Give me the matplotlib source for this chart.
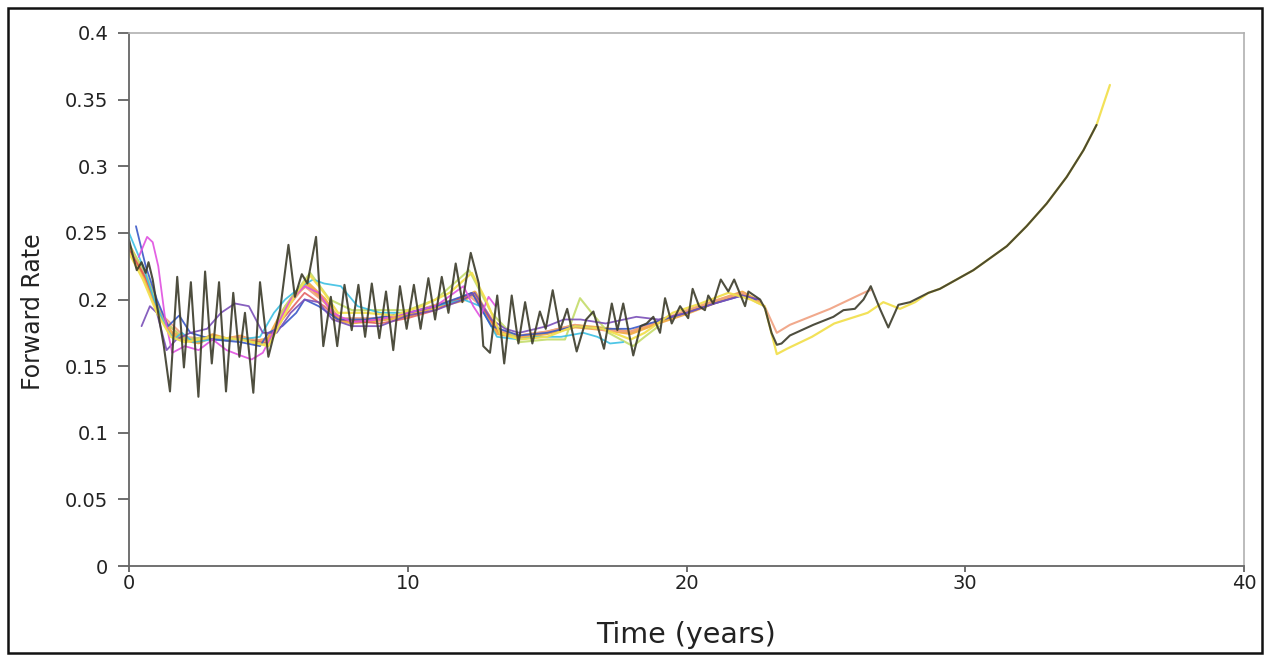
import matplotlib
matplotlib.use("Agg")
import matplotlib.pyplot as plt
from matplotlib.patches import Rectangle

# ---------------- data ----------------
dark_t = [0.0, 0.15, 0.28, 0.45, 0.6, 0.7, 0.85, 1.11, 1.25, 1.47, 1.73, 1.97, 2.22, 2.49, 2.73, 2.97,
          3.23, 3.48, 3.74, 3.96, 4.16, 4.46, 4.70, 5.0, 5.42, 5.72, 5.95, 6.2, 6.4, 6.71, 6.97, 7.24,
          7.47, 7.73, 7.99, 8.23, 8.47, 8.71, 8.98, 9.22, 9.48, 9.72, 9.96, 10.22, 10.46, 10.74, 10.98,
          11.22, 11.46, 11.72, 11.96, 12.26, 12.55, 12.71, 12.95, 13.21, 13.46, 13.73, 13.97, 14.21,
          14.47, 14.74, 14.95, 15.2, 15.46, 15.72, 16.06, 16.4, 16.66, 17.04, 17.32, 17.52, 17.73,
          18.09, 18.35, 18.57, 18.81, 19.05, 19.23, 19.47, 19.77, 20.06, 20.22, 20.45, 20.66, 20.78,
          20.96, 21.23, 21.5, 21.71, 22.1, 22.22, 22.64, 22.82, 23.05, 23.24, 23.41, 23.71, 24.55,
          25.27, 25.63, 26.04, 26.35, 26.61, 26.94, 27.24, 27.6, 28.02, 28.68, 29.09, 30.29, 31.49,
          32.2, 32.92, 33.64, 34.24, 34.71]
dark_v = [0.245, 0.232, 0.222, 0.228, 0.220, 0.228, 0.215, 0.182, 0.165, 0.131, 0.217, 0.149, 0.213,
          0.127, 0.221, 0.152, 0.213, 0.131, 0.205, 0.157, 0.190, 0.130, 0.213, 0.157, 0.192, 0.241,
          0.202, 0.219, 0.212, 0.247, 0.165, 0.202, 0.165, 0.211, 0.177, 0.211, 0.172, 0.212, 0.171,
          0.206, 0.162, 0.210, 0.178, 0.211, 0.178, 0.216, 0.185, 0.217, 0.190, 0.227, 0.198, 0.235,
          0.212, 0.165, 0.160, 0.203, 0.152, 0.203, 0.167, 0.198, 0.167, 0.191, 0.178, 0.207, 0.177,
          0.193, 0.161, 0.185, 0.191, 0.163, 0.197, 0.177, 0.197, 0.158, 0.180, 0.182, 0.187, 0.175,
          0.201, 0.182, 0.195, 0.186, 0.208, 0.195, 0.192, 0.203, 0.197, 0.215, 0.206, 0.215, 0.195,
          0.206, 0.200, 0.193, 0.175, 0.166, 0.167, 0.173, 0.181, 0.187, 0.192, 0.193, 0.200, 0.210,
          0.193, 0.179, 0.196, 0.198, 0.205, 0.208, 0.222, 0.240, 0.255, 0.272, 0.292, 0.312, 0.331]

yellow_t = [0, 0.5, 1.0, 1.5, 2, 3, 4, 5, 5.5, 6, 6.5, 7, 7.5, 8.5, 9.5, 10.5, 11.5, 12.3, 12.8, 13.3,
            14, 15, 16, 17, 18, 18.5, 19.5, 20.5, 21.5, 22.3, 22.8, 23.24, 23.6, 24.5, 25.3, 26.5,
            27.06, 27.66, 28.2, 28.68, 29.09, 30.29, 31.49, 32.2, 32.92, 33.64, 34.24, 34.71, 35.19]
yellow_v = [0.235, 0.215, 0.190, 0.172, 0.168, 0.172, 0.170, 0.165, 0.185, 0.205, 0.218, 0.205, 0.190,
            0.190, 0.188, 0.195, 0.205, 0.220, 0.200, 0.175, 0.170, 0.172, 0.180, 0.178, 0.170, 0.175,
            0.190, 0.197, 0.205, 0.200, 0.195, 0.159, 0.163, 0.172, 0.182, 0.190, 0.198, 0.193, 0.198,
            0.205, 0.208, 0.222, 0.240, 0.255, 0.272, 0.292, 0.312, 0.331, 0.361]

orange_t = [0, 0.5, 1, 1.5, 2, 2.5, 3, 3.5, 4, 4.5, 5, 5.5, 6, 6.4, 7, 7.5, 8, 9, 10, 11, 12, 12.4,
            12.8, 13.2, 14, 15, 16, 17, 18, 19, 20, 21, 22, 22.6]
orange_v = [0.240, 0.220, 0.195, 0.175, 0.170, 0.168, 0.173, 0.170, 0.172, 0.168, 0.170, 0.190, 0.205,
            0.212, 0.200, 0.185, 0.183, 0.185, 0.188, 0.195, 0.200, 0.205, 0.190, 0.175, 0.172, 0.175,
            0.180, 0.178, 0.175, 0.183, 0.190, 0.198, 0.205, 0.198]

salmon_t = [0, 0.6, 1.2, 2, 3, 4, 5, 5.6, 6.3, 7, 7.6, 9, 10, 11, 12.2, 12.8, 13.3, 14, 15, 16, 17,
            18, 19, 20, 21, 22, 22.8, 23.24, 23.71, 25.15, 26.46, 26.6]
salmon_v = [0.238, 0.218, 0.188, 0.172, 0.170, 0.172, 0.168, 0.192, 0.210, 0.198, 0.186, 0.186, 0.190,
            0.196, 0.203, 0.192, 0.177, 0.173, 0.176, 0.181, 0.177, 0.176, 0.184, 0.192, 0.199, 0.205,
            0.195, 0.175, 0.181, 0.193, 0.206, 0.207]

magenta_t = [0.35, 0.65, 0.85, 1.05, 1.3, 1.55, 2.0, 2.5, 3.0, 3.5, 4.0, 4.4, 4.8, 5.3, 5.8, 6.3, 6.8,
             7.3, 8, 9, 10, 11, 12, 12.35, 12.6, 12.9, 13.15]
magenta_v = [0.232, 0.247, 0.243, 0.225, 0.185, 0.160, 0.165, 0.162, 0.170, 0.162, 0.158, 0.155, 0.160,
             0.180, 0.200, 0.210, 0.205, 0.190, 0.183, 0.185, 0.190, 0.195, 0.210, 0.195, 0.187, 0.202,
             0.195]

purple_t = [0.45, 0.75, 1.0, 1.35, 1.7, 2.2, 2.8, 3.3, 3.8, 4.3, 4.8, 5.3, 5.8, 6.3, 6.8, 7.3, 8, 9, 10,
            11, 12, 12.4, 13, 13.5, 14, 15, 15.6, 16.2, 17.1, 18.2, 19, 20, 21, 22, 22.6]
purple_v = [0.180, 0.195, 0.190, 0.162, 0.170, 0.175, 0.178, 0.190, 0.197, 0.195, 0.175, 0.175, 0.190,
            0.200, 0.198, 0.185, 0.180, 0.180, 0.188, 0.192, 0.200, 0.205, 0.185, 0.178, 0.175, 0.180,
            0.185, 0.185, 0.182, 0.187, 0.185, 0.190, 0.197, 0.203, 0.200]

blue_t = [0.25, 0.6, 1.0, 1.4, 1.8, 2.2, 3, 4, 4.7, 5.0, 5.5, 6.0, 6.3, 6.8, 7.5, 8.5, 10, 11, 12.3,
          13, 14, 15, 16, 17, 18, 19, 20, 21, 22, 22.5]
blue_v = [0.255, 0.225, 0.200, 0.180, 0.188, 0.175, 0.170, 0.168, 0.165, 0.175, 0.180, 0.190, 0.200,
          0.195, 0.185, 0.185, 0.190, 0.195, 0.205, 0.180, 0.173, 0.175, 0.180, 0.178, 0.178, 0.184,
          0.190, 0.197, 0.203, 0.200]

cyan_t = [0, 0.5, 0.9, 1.3, 1.6, 1.9, 2.3, 3, 4, 4.7, 5.2, 5.6, 6.2, 6.6, 7, 7.6, 8.2, 9, 10, 11, 12,
          12.6, 13.2, 14, 14.6, 15.5, 16.3, 16.8, 17.26, 17.73]
cyan_v = [0.250, 0.225, 0.200, 0.180, 0.170, 0.175, 0.168, 0.170, 0.170, 0.172, 0.190, 0.200, 0.210,
          0.215, 0.212, 0.210, 0.195, 0.190, 0.190, 0.195, 0.200, 0.195, 0.172, 0.170, 0.172, 0.172,
          0.175, 0.172, 0.167, 0.168]

green_t = [0, 0.6, 1.2, 2, 3, 4, 5, 5.6, 6.5, 7.2, 8, 9, 10, 11, 12.2, 13, 14, 15, 15.64, 16.18, 16.6,
           17.2, 18.08, 18.5, 19]
green_v = [0.240, 0.220, 0.185, 0.170, 0.172, 0.170, 0.166, 0.195, 0.220, 0.200, 0.192, 0.192, 0.192,
           0.200, 0.222, 0.190, 0.168, 0.170, 0.170, 0.201, 0.190, 0.175, 0.165, 0.172, 0.180]

red_t = [0, 0.6, 1.2, 2, 3, 4, 5, 5.5, 6.3, 7, 7.5, 9, 10, 11, 12.3, 12.8, 13.3]
red_v = [0.238, 0.216, 0.185, 0.170, 0.171, 0.170, 0.167, 0.185, 0.205, 0.195, 0.185, 0.182, 0.186,
         0.192, 0.205, 0.190, 0.175]

x_ticks = [0, 10, 20, 30, 40]
y_ticks = [0, 0.05, 0.1, 0.15, 0.2, 0.25, 0.3, 0.35, 0.4]
y_tick_labels = ["0", "0.05", "0.1", "0.15", "0.2", "0.25", "0.3", "0.35", "0.4"]

# ---------------- figure ----------------
fig = plt.figure(figsize=(12.66, 6.56), dpi=100)
ax = fig.add_axes([129 / 1266, 1 - 566 / 656, (1244 - 129) / 1266, (566 - 33) / 656])

series = [
    (orange_t, orange_v, "#f0a030", 3.2, 0.85),
    (salmon_t, salmon_v, "#f0a080", 1.5, 0.9),
    (red_t, red_v, "#e05050", 1.3, 0.8),
    (green_t, green_v, "#c4dc6a", 1.5, 0.9),
    (cyan_t, cyan_v, "#3cc0e4", 1.3, 0.9),
    (blue_t, blue_v, "#3a58c8", 1.3, 0.9),
    (purple_t, purple_v, "#7a4fb8", 1.3, 0.9),
    (magenta_t, magenta_v, "#e050e0", 1.3, 0.9),
    (yellow_t, yellow_v, "#f2e050", 1.6, 0.95),
    (dark_t, dark_v, "#3b3b2a", 1.5, 0.9),
]
for t, v, c, lw, a in series:
    ax.plot(t, v, color=c, lw=lw, alpha=a, solid_joinstyle="round", solid_capstyle="round")

ax.set_xlim(0, 40)
ax.set_ylim(0, 0.4)
ax.set_xticks(x_ticks)
ax.set_xticklabels([str(x) for x in x_ticks])
ax.set_yticks(y_ticks)
ax.set_yticklabels(y_tick_labels)
ax.tick_params(axis="y", labelsize=14, length=8, width=1.2, color="#555555", labelcolor="#222222",
               direction="out", pad=7)
ax.tick_params(axis="x", labelsize=14, length=4, width=1.2, color="#555555", labelcolor="#222222",
               direction="out", pad=2)
for s in ["left", "bottom"]:
    ax.spines[s].set_color("#666666")
    ax.spines[s].set_linewidth(1.3)
for s in ["top", "right"]:
    ax.spines[s].set_color("#b0b0b0")
    ax.spines[s].set_linewidth(1.2)

ax.set_xlabel("Time (years)", fontsize=20.5, color="#222222", labelpad=20)
ax.set_ylabel("Forward Rate", fontsize=17, color="#222222")
ax.yaxis.set_label_coords(-0.0755, 0.478)

fig.patches.append(Rectangle((8 / 1266, 3 / 656), (1262 - 8) / 1266, (648 - 3) / 656,
                             transform=fig.transFigure, fill=False, edgecolor="#111111", lw=1.8))

fig.savefig("out.png", dpi=100)
